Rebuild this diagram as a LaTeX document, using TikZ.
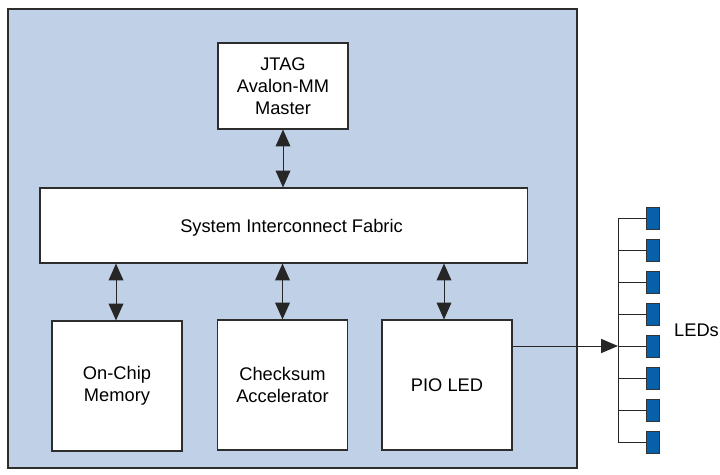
\documentclass[tikz,border=0pt]{standalone}
\usepackage{fontspec}
\setmainfont{Liberation Sans}
\usetikzlibrary{shapes,arrows,arrows.meta,positioning,calc}

\definecolor{chipblue}{RGB}{192,208,230}
\definecolor{ledblue}{RGB}{8,96,168}
\definecolor{edgegray}{RGB}{45,45,45}

\tikzset{
  block/.style={draw=edgegray, line width=0.8pt, fill=white, rectangle, align=center, font=\fontsize{13}{15.5}\selectfont},
  link/.style={draw=black!85, line width=0.7pt, {Triangle[length=12pt,width=10.5pt]}-{Triangle[length=12pt,width=10.5pt]}},
  feed/.style={draw=black!85, line width=0.7pt, -{Triangle[length=12pt,width=10pt]}},
  lamp/.style={draw=black!80, line width=0.6pt, fill=ledblue, rectangle, minimum width=0.325cm, minimum height=0.55cm, inner sep=0pt},
  wire/.style={draw=black!85, line width=0.7pt}
}

\begin{document}
\begin{tikzpicture}[x=0.025cm, y=-0.025cm]

\useasboundingbox (0,0) rectangle (720,474);

% chip area
\draw[fill=chipblue, draw=edgegray, line width=0.9pt] (8,9) rectangle (577,468);

\node[block, minimum width=3.25cm, minimum height=2.15cm] (jtag) at (283,86) {JTAG\\Avalon-MM\\Master};
\node[block, minimum width=12.175cm, minimum height=1.875cm] (fabric) at (283.5,225.5) {};
\node[font=\fontsize{13}{15.5}\selectfont] (fabrictext) at (291.5,227.5) {System Interconnect Fabric};

\node[block, minimum width=3.25cm, minimum height=3.25cm] (mem) at (117,386) {On-Chip\\Memory};
\node[block, minimum width=3.25cm, minimum height=3.25cm] (chk) at (282.5,385) {Checksum\\Accelerator};
\node[block, minimum width=3.25cm, minimum height=3.25cm] (pio) at (447,385) {PIO LED};

\draw[link] (jtag.south) -- (fabric.north -| jtag.south);
\draw[link] (fabric.south -| 116,0) -- (mem.north -| 116,0);
\draw[link] (fabric.south -| chk.north) -- (chk.north);
\draw[link] (fabric.south -| 444,0) -- (pio.north -| 444,0);

% LED bank
\foreach \i in {1,...,8} {
  \coordinate (tap\i) at (618,{186+32*\i});
  \node[lamp] (led\i) at (652.5,{186+32*\i}) {};
  \draw[wire] (tap\i) -- (led\i.west);
}
\draw[wire] (tap1) -- (tap8);
\draw[feed] (pio.east |- tap5) -- (tap5);

\node[font=\fontsize{13}{15}\selectfont] (ledtext) at (696.5,330) {LEDs};

\end{tikzpicture}
\end{document}
